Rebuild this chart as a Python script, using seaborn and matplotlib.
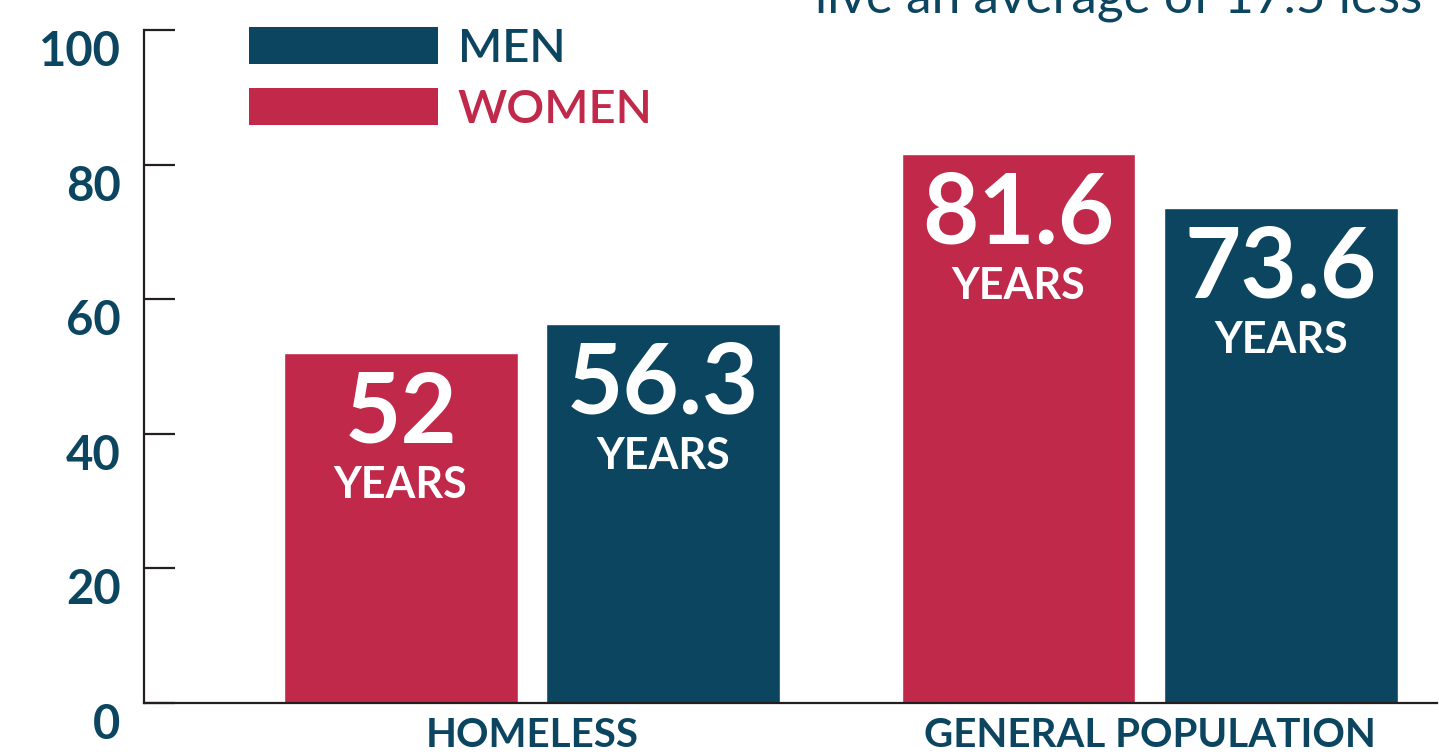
import numpy as np
import pandas as pd
import matplotlib
matplotlib.use("Agg")
import matplotlib.pyplot as plt
import seaborn as sns
from matplotlib.patches import Patch

# Datos
categorias = ["HOMELESS", "GENERAL POPULATION"]
mujeres = [52, 81.6]
hombres = [56.3, 73.6]
series = ["WOMEN", "MEN"]
yticks = [0, 20, 40, 60, 80, 100]
texto_superior = "live an average of 17.5 less"

AZUL = "#0B4560"
ROJO = "#C0294A"
EJE = "#231F20"

df = pd.DataFrame({
    "grupo": categorias * 2,
    "sexo": ["WOMEN"] * len(categorias) + ["MEN"] * len(categorias),
    "edad": mujeres + hombres,
})

sns.set_style("white")
plt.rcParams["font.family"] = ["Lato", "DejaVu Sans"]

fig = plt.figure(figsize=(14.39, 7.56), dpi=100)
ax = fig.add_axes([144 / 1439, 1 - 703 / 756, (1437 - 144) / 1439, (703 - 30) / 756])

sns.barplot(data=df, x="grupo", y="edad", hue="sexo", hue_order=series,
            order=categorias, palette={"WOMEN": ROJO, "MEN": AZUL},
            width=0.85, gap=0.11, legend=False, ax=ax, saturation=1)

ax.set_ylim(0, 100)
ax.set_xlim(-0.628, 1.465)
ax.set_xlabel("")
ax.set_ylabel("")

# ejes
for lado in ["top", "right"]:
    ax.spines[lado].set_visible(False)
for lado in ["left", "bottom"]:
    ax.spines[lado].set_color(EJE)
    ax.spines[lado].set_linewidth(1.6)

ax.set_yticks(yticks)
ax.set_yticklabels([str(t) for t in yticks])
ax.tick_params(axis="y", left=True, direction="in", length=22, width=1.6, color=EJE,
               pad=17, labelsize=34, labelcolor=AZUL)
for lbl in ax.get_yticklabels():
    lbl.set_fontweight("bold")
    lbl.set_va("top")
ax.tick_params(axis="x", bottom=False, length=0, pad=10, labelsize=29, labelcolor=AZUL)
for lbl in ax.get_xticklabels():
    lbl.set_fontweight("bold")

# etiquetas dentro de las barras
valores = {"WOMEN": mujeres, "MEN": hombres}
for cont, serie in zip(ax.containers, series):
    for barra, v in zip(cont.patches, valores[serie]):
        cx = barra.get_x() + barra.get_width() / 2
        top = barra.get_height()
        ax.annotate(f"{v:g}", (cx, top), xytext=(0, -44), textcoords="offset points",
                    ha="center", va="center", color="white", fontsize=70,
                    fontweight="bold")
        ax.annotate("YEARS", (cx, top), xytext=(0, -95), textcoords="offset points",
                    ha="center", va="center", color="white", fontsize=31,
                    fontweight="bold")

# leyenda
handles = [Patch(facecolor=AZUL, edgecolor="none"), Patch(facecolor=ROJO, edgecolor="none")]
ax.legend(handles, ["MEN", "WOMEN"], loc="upper left",
          bbox_to_anchor=(249 / 1439, 1 - 27 / 756), bbox_transform=fig.transFigure,
          frameon=False, borderpad=0, borderaxespad=0,
          handlelength=4.0, handleheight=0.83, handletextpad=0.42, labelspacing=0.39,
          prop={"family": "Lato", "weight": "semibold", "size": 34},
          labelcolor=[AZUL, ROJO])

# texto cortado arriba
fig.text(815 / 1439, 1 - 12.5 / 756, texto_superior, ha="left", va="baseline",
         fontsize=37, fontweight="normal", color=AZUL)

fig.savefig("out.png", dpi=100)
